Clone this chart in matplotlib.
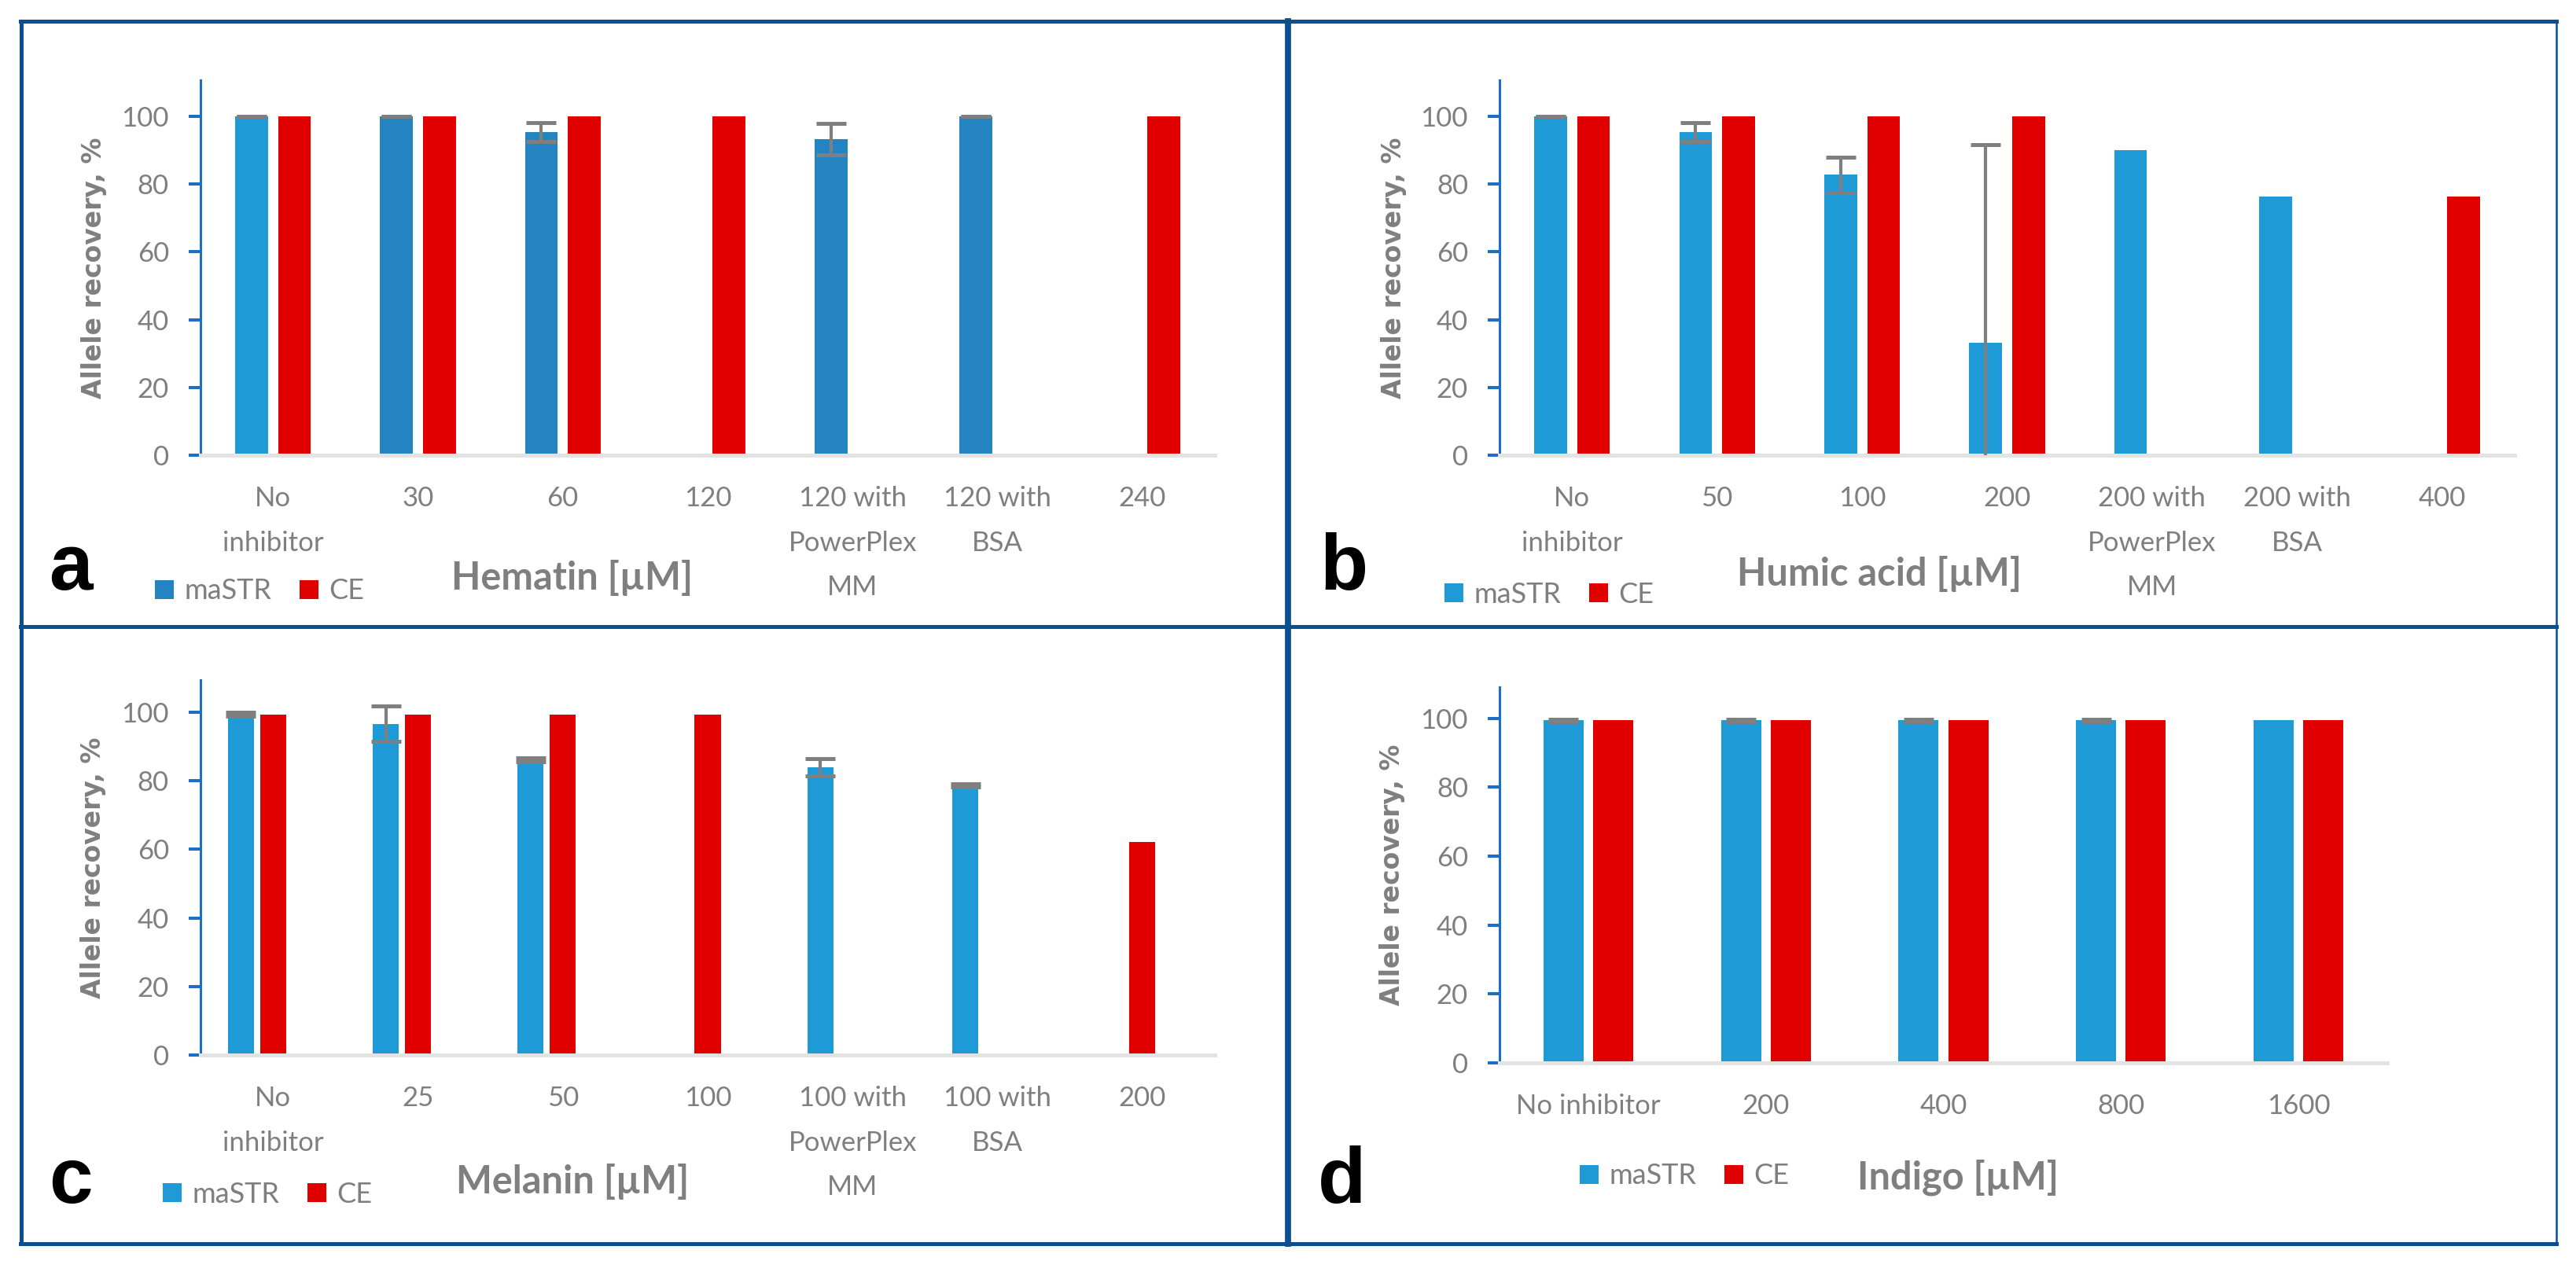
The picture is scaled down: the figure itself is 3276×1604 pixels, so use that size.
import numpy as np
import matplotlib
matplotlib.use('Agg')
import matplotlib.pyplot as plt
from matplotlib.patches import Patch
from matplotlib.lines import Line2D

nan = np.nan

# ---------------- data ----------------
# Panel a - Hematin
cats_a = ["No\ninhibitor", "30", "60", "120", "120 with\nPowerPlex\nMM", "120 with\nBSA", "240"]
mastr_a = [100, 100, 95.4, nan, 93.3, 100, nan]
mastr_err_a = [0, 0, 2.8, nan, 4.7, 0, nan]
ce_a = [100, 100, 100, 100, nan, nan, 100]

# Panel b - Humic acid
cats_b = ["No\ninhibitor", "50", "100", "200", "200 with\nPowerPlex\nMM", "200 with\nBSA", "400"]
mastr_b = [100, 95.4, 82.8, 33.3, 90.0, 76.4, nan]
mastr_err_b = [0, 2.8, 5.2, 58.3, nan, nan, nan]
ce_b = [100, 100, 100, 100, nan, nan, 76.3]

# Panel c - Melanin
cats_c = ["No\ninhibitor", "25", "50", "100", "100 with\nPowerPlex\nMM", "100 with\nBSA", "200"]
mastr_c = [99.4, 96.6, 86.1, nan, 83.9, 78.7, nan]
mastr_err_c = [0.5, 5.2, 0.5, nan, 2.5, 0.5, nan]
ce_c = [99.4, 99.4, 99.4, 99.4, nan, nan, 62.1]

# Panel d - Indigo
cats_d = ["No inhibitor", "200", "400", "800", "1600"]
mastr_d = [99.4, 99.4, 99.4, 99.4, 99.4]
mastr_err_d = [0.4, 0.4, 0.4, 0.4, nan]
ce_d = [99.4, 99.4, 99.4, 99.4, 99.4]

series_names = ["maSTR", "CE"]
yticks = [0, 20, 40, 60, 80, 100]
ylabel = "Allele recovery, %"

# ---------------- style ----------------
BLUE_L = '#1E9BD7'
BLUE_D = '#2484C1'
RED = '#E00000'
GRAY = '#7F7F7F'
AX_BLUE = '#1C6FC4'
AX_GRAY = '#E3E3E3'
FRAME = '#0B4F8E'

plt.rcParams['font.family'] = ['Lato', 'DejaVu Sans']

W, H = 3276, 1604
fig = plt.figure(figsize=(W / 100, H / 100), dpi=100)


def fx(x):
    return x / W


def fy(y):
    return 1 - y / H


def make_axes(x0, x1, ytop, ybot):
    return fig.add_axes([fx(x0), fy(ybot), (x1 - x0) / W, (ybot - ytop) / H])


def draw_panel(ax, cats, mastr, err, ce, mastr_colors, offsets, width, ymax,
               xlabel, xlab_pos, ylab_x, leg_anchor, leg_color):
    x = np.arange(len(cats))
    ax.bar(x + offsets[0], mastr, width, color=mastr_colors, zorder=2)
    ax.bar(x + offsets[1], ce, width, color=RED, zorder=2)
    ax.errorbar(x + offsets[0], mastr, yerr=err, fmt='none', ecolor=GRAY,
                elinewidth=3.0, capsize=14, capthick=3.6, zorder=3)
    ax.set_xlim(-0.5, len(cats) - 0.5)
    ax.set_ylim(0, ymax)
    ax.set_yticks(yticks)
    ax.set_xticks(x)
    ax.set_xticklabels(cats)
    for lab in ax.get_xticklabels():
        lab.set_linespacing(1.95)
    for s in ['top', 'right']:
        ax.spines[s].set_visible(False)
    ax.spines['left'].set_color(AX_BLUE)
    ax.spines['left'].set_linewidth(2.2)
    ax.spines['bottom'].set_color(AX_GRAY)
    ax.spines['bottom'].set_linewidth(3.6)
    ax.tick_params(axis='y', direction='out', length=10.8, width=2.9,
                   color=AX_BLUE, labelcolor=GRAY, labelsize=25, pad=18)
    ax.tick_params(axis='x', length=0, labelcolor=GRAY, labelsize=25, pad=28)
    ax.set_ylabel(ylabel, fontsize=23.8, fontweight='bold', color=GRAY,
                  family=['DejaVu Sans'])
    ax.yaxis.set_label_coords(ylab_x, 0.5)
    ax.yaxis.label.set_verticalalignment('center')
    ax.set_xlabel(xlabel, fontsize=35, fontweight='bold', color=GRAY)
    ax.xaxis.set_label_coords(*xlab_pos)
    ax.xaxis.label.set_verticalalignment('baseline')
    handles = [Patch(facecolor=leg_color, edgecolor='none', label=series_names[0]),
               Patch(facecolor=RED, edgecolor='none', label=series_names[1])]
    ax.legend(handles=handles, loc='center left',
              bbox_to_anchor=(fx(leg_anchor[0]), fy(leg_anchor[1])),
              bbox_transform=fig.transFigure, ncol=2, frameon=False,
              fontsize=26, handlelength=0.67, handleheight=0.65,
              handletextpad=0.36, columnspacing=1.0, borderpad=0,
              borderaxespad=0, labelcolor=GRAY)


# panel a
ax_a = make_axes(255, 1545, 102, 579)
cols_a = [BLUE_L] + [BLUE_D] * (len(cats_a) - 1)
draw_panel(ax_a, cats_a, mastr_a, mastr_err_a, ce_a, cols_a, (-0.148, 0.148), 0.226,
           110.7, "Hematin [µM]", (0.3667, -0.3585), -0.1047, (197, 752), BLUE_D)

# panel b
ax_b = make_axes(1907, 3198, 102, 579)
draw_panel(ax_b, cats_b, mastr_b, mastr_err_b, ce_b, BLUE_L, (-0.148, 0.148), 0.226,
           110.7, "Humic acid [µM]", (0.374, -0.348), -0.1038, (1837, 756), BLUE_L)

# panel c
ax_c = make_axes(255, 1545, 865, 1342)
draw_panel(ax_c, cats_c, mastr_c, mastr_err_c, ce_c, BLUE_L, (-0.222, 0.0), 0.18,
           109.4, "Melanin [µM]", (0.3667, -0.369), -0.1062, (207, 1519), BLUE_L)

# panel d
ax_d = make_axes(1907, 3036, 874, 1352)
draw_panel(ax_d, cats_d, mastr_d, mastr_err_d, ce_d, BLUE_L, (-0.14, 0.14), 0.226,
           109.1, "Indigo [µM]", (0.516, -0.335), -0.1213, (2009, 1496), BLUE_L)

# panel letters
for letter, (px, py) in zip("abcd", [(62, 750), (1678, 750), (62, 1530), (1676, 1530)]):
    fig.text(fx(px), fy(py), letter, fontsize=72, fontweight='bold', color='black',
             family=['Liberation Sans'], ha='left', va='baseline')

# frame
frame_segments = [
    ((26, 27), (3251, 27), 3.6),
    ((27, 27), (27, 1582), 3.6),
    ((26, 1582), (3251, 1582), 3.6),
    ((1638, 27), (1638, 1582), 5.6),
    ((26, 797), (3251, 797), 3.6),
    ((3251, 27), (3251, 1582), 1.8),
]
for (x0, y0), (x1, y1), lw in frame_segments:
    fig.add_artist(Line2D([fx(x0), fx(x1)], [fy(y0), fy(y1)], transform=fig.transFigure,
                          color=FRAME, lw=lw, solid_capstyle='projecting'))

fig.savefig('out.png', dpi=100, facecolor='white')
